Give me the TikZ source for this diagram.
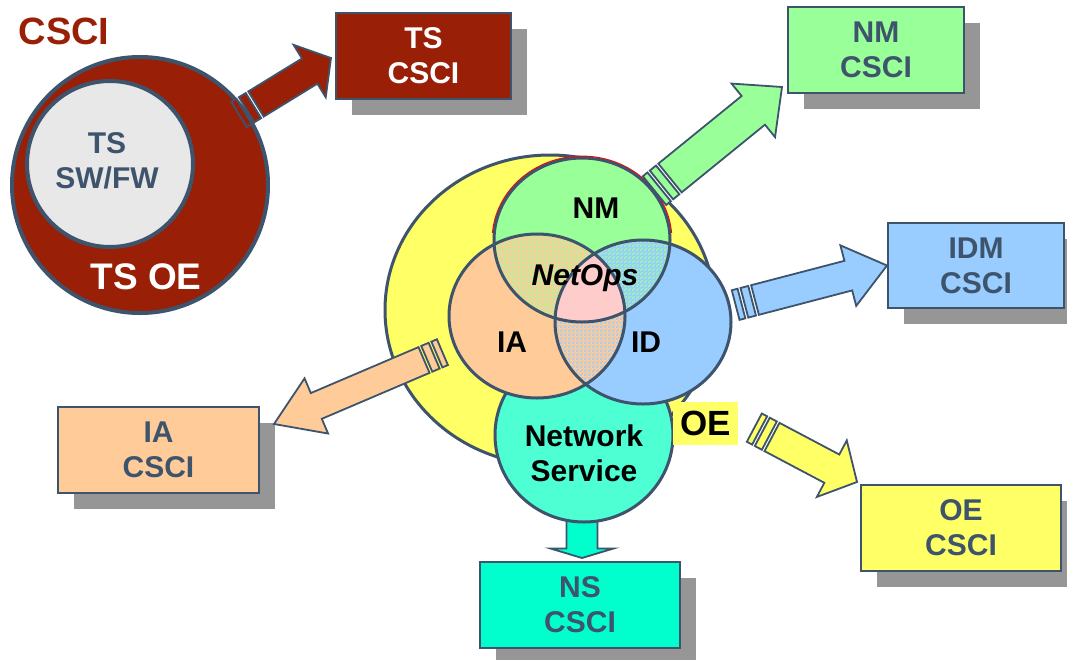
\documentclass[tikz,border=0pt]{standalone}
\usepackage{fontspec}
\setmainfont{Liberation Sans}
\usetikzlibrary{calc,shadows,patterns}

\definecolor{slate}{RGB}{61,84,108}
\definecolor{tsred}{RGB}{153,31,6}
\definecolor{tsgray}{RGB}{232,232,232}
\definecolor{nmgreen}{RGB}{153,255,153}
\definecolor{idblue}{RGB}{153,204,255}
\definecolor{iaorange}{RGB}{255,204,153}
\definecolor{oeyellow}{RGB}{255,255,102}
\definecolor{nsteal}{RGB}{0,255,204}
\definecolor{nscircle}{RGB}{77,255,210}
\definecolor{netpink}{RGB}{255,204,204}
\definecolor{shadowgray}{RGB}{150,150,150}

\newcommand{\bigfont}{\fontsize{30}{35}\selectfont\bfseries}

% fine checker used for the overlaps
\pgfdeclarepatternformonly{mixdots}{\pgfqpoint{0pt}{0pt}}{\pgfqpoint{4pt}{4pt}}{\pgfqpoint{4pt}{4pt}}{%
  \pgfpathrectangle{\pgfqpoint{0pt}{0pt}}{\pgfqpoint{2pt}{2pt}}%
  \pgfpathrectangle{\pgfqpoint{2pt}{2pt}}{\pgfqpoint{2pt}{2pt}}%
  \pgfusepath{fill}}

\newcommand{\nmring}{(582,240) ellipse [x radius=88, y radius=82]}
\newcommand{\iaring}{(537,316) ellipse [x radius=88, y radius=82]}
\newcommand{\idring}{(643,322) ellipse [x radius=88, y radius=82]}

% block arrow with striped tail: from, to, fill, head length, half shaft
\newcommand{\fatarrow}[5]{%
  \path let \p1=(#1), \p2=(#2) in \pgfextra{%
    \pgfmathparse{atan2((\y2)-(\y1),(\x2)-(\x1))}\xdef\arrowang{\pgfmathresult}%
    \pgfmathparse{veclen((\x2)-(\x1),(\y2)-(\y1))}\xdef\arrowlen{\pgfmathresult}};
  \begin{scope}[shift={(#1)},rotate=\arrowang]
    \filldraw[blockarrow,fill=#3] (0,-#5) -- ({\arrowlen-#4},-#5) -- ({\arrowlen-#4},{-#5-16})
      -- (\arrowlen,0) -- ({\arrowlen-#4},{#5+16}) -- ({\arrowlen-#4},#5) -- (0,#5) -- cycle;
    \filldraw[blockarrow,fill=#3] (-3,-#5) -- (-11,-#5) -- (-11,#5) -- (-3,#5) -- cycle;
    \filldraw[blockarrow,fill=#3] (-14,-#5) -- (-20,-#5) -- (-20,#5) -- (-14,#5) -- cycle;
  \end{scope}}

\tikzset{
  csci/.style={draw=slate, line width=2pt, text=slate, align=center, inner sep=0pt,
    minimum height=86pt, font=\bigfont,
    general shadow={fill=shadowgray, shadow xshift=16pt, shadow yshift=-16pt}},
  venn/.style={draw=slate, line width=3pt},
  venntext/.style={font=\bigfont, text=black, inner sep=0pt},
  blockarrow/.style={draw=slate, line width=1.8pt}
}

\begin{document}
\begin{tikzpicture}[x=1pt,y=-1pt]
\useasboundingbox (0,0) rectangle (1067,659);
\fill[white] (0,0) rectangle (1067,659);

%TS side
\node[circle, draw=slate, line width=4pt, fill=tsred, minimum size=256pt, inner sep=0pt] (tsoe) at (140,185) {};
\node[circle, draw=slate, line width=4pt, fill=tsgray, minimum size=166pt, inner sep=0pt] (tssw) at (110,164) {};
\node[venntext, text=slate, align=center] (tstext) at (107,161) {TS\\SW/FW};
\node[font=\fontsize{37}{40}\selectfont\bfseries, text=white, inner sep=0pt] (tsoetext) at (146,277) {TS OE};
\node[font=\fontsize{38}{40}\selectfont\bfseries, text=tsred, inner sep=0pt] (cscitext) at (64,31.5) {CSCI};

%boxes
\node[csci, fill=tsred, text=white, minimum width=175pt] (tscsci) at (423.5,56) {TS\\CSCI};
\node[csci, fill=nmgreen, minimum width=176pt] (nmcsci) at (876,50) {NM\\CSCI};
\node[csci, fill=idblue, minimum width=176pt, minimum height=85pt] (idmcsci) at (976,265.5) {IDM\\CSCI};
\node[csci, fill=iaorange, minimum width=201pt] (iacsci) at (158.5,450) {IA\\CSCI};
\node[csci, fill=nsteal, minimum width=200pt] (nscsci) at (580,605) {NS\\CSCI};
\node[csci, fill=oeyellow, minimum width=200pt] (oecsci) at (961,528) {OE\\CSCI};

%arrow tails
\coordinate (tsout) at (256,104);
\coordinate (nmout) at (670,178);
\coordinate (idout) at (755,300);
\coordinate (iaout) at (424,360);
\coordinate (oeout) at (772,437);
\coordinate (nsout) at (582,512);

%OE ring
\filldraw[venn, fill=oeyellow] (550,310) ellipse [x radius=165, y radius=155];

%network service
\fatarrow{nsout}{[shift={(2,-3)}]nscsci.north}{nsteal}{9.5}{15.5}
\filldraw[venn, fill=nscircle] (584,435) ellipse [x radius=89, y radius=87];

%NetOps circles
\fill[iaorange] \iaring;
\fill[idblue] \idring;
\fill[nmgreen] \nmring;
\begin{scope}
  \clip \nmring;
  \fill[iaorange] \iaring;
  \fill[pattern=mixdots, pattern color=nmgreen] \iaring;
  \fill[idblue] \idring;
  \fill[pattern=mixdots, pattern color=nmgreen] \idring;
\end{scope}
\begin{scope}
  \clip \iaring;
  \fill[iaorange] \idring;
  \fill[pattern=mixdots, pattern color=idblue] \idring;
  \clip \nmring;
  \fill[netpink] \idring;
\end{scope}
\begin{scope}
  \clip (470,140) rectangle (700,232);
  \draw[red, line width=1.2pt] (582,240) ellipse [x radius=89.8, y radius=83.8];
\end{scope}
\draw[venn] \nmring;
\draw[venn] \iaring;
\draw[venn] \idring;

\node[fill=oeyellow, minimum width=65pt, minimum height=43pt, inner sep=0pt,
  font=\fontsize{35}{38}\selectfont\bfseries] (oetext) at (705.5,423.5) {OE};

%arrows
\fatarrow{tsout}{[shift={(-4,2)}]tscsci.west}{tsred}{25}{14.75}
\fatarrow{nmout}{[shift={(-5,-7)}]nmcsci.south west}{nmgreen}{37}{18.5}
\fatarrow{idout}{idmcsci.west}{idblue}{40}{15.3}
\fatarrow{iaout}{[shift={(14,18)}]iacsci.north east}{iaorange}{46}{14}
\fatarrow{oeout}{[shift={(-3,-2)}]oecsci.north west}{oeyellow}{28.5}{16}

%labels
\node[venntext] (nmtext) at (596,208) {NM};
\node[venntext, anchor=base, font=\bigfont\itshape] (netops) at (585,285) {NetOps};
\node[venntext] (iatext) at (512,342) {IA};
\node[venntext] (idtext) at (646,342) {ID};
\node[venntext, align=center] (nstext) at (584,453) {Network\\Service};
\end{tikzpicture}
\end{document}
